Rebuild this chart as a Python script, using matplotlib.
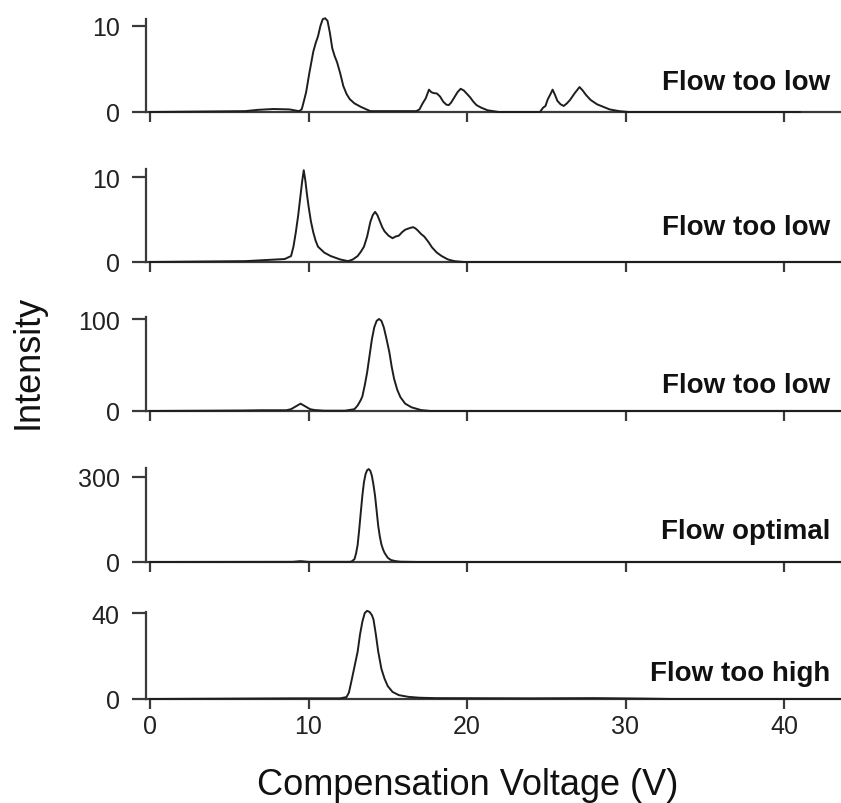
import matplotlib
matplotlib.use("Agg")
import matplotlib.pyplot as plt

plt.rcParams['font.family'] = ['Liberation Sans', 'DejaVu Sans']

# ---- data ----
labels = ["Flow too low", "Flow too low", "Flow too low", "Flow optimal", "Flow too high"]
yticks = [[0, 10], [0, 10], [0, 100], [0, 300], [0, 40]]
xticks = [0, 10, 20, 30, 40]

cv1 = [0, 6.0, 6.8, 7.8, 8.8, 9.4,
       9.57, 9.7, 9.85, 10.05, 10.3, 10.45, 10.6, 10.75, 10.9, 11.05, 11.2, 11.35, 11.5, 11.65,
       11.8, 12.0, 12.2, 12.4, 12.6, 12.9, 13.3, 13.9,
       16.8, 17.0, 17.2, 17.4, 17.6, 17.75, 17.9, 18.1, 18.3, 18.5, 18.7, 18.85, 19.0, 19.2,
       19.4, 19.6, 19.8, 20.0, 20.2, 20.4, 20.6, 20.9, 21.3, 22.0,
       24.6, 24.8, 24.95, 25.1, 25.3, 25.4, 25.55, 25.7, 25.9, 26.1, 26.3, 26.5, 26.8, 27.1,
       27.3, 27.5, 27.8, 28.2, 28.6, 29.0, 29.6, 30.2, 41.0]
int1 = [0, 0.1, 0.25, 0.35, 0.3, 0.1,
        0.3, 1.2, 2.3, 4.5, 7.0, 8.0, 8.8, 10.0, 10.8, 10.9, 10.6, 9.2, 7.4, 6.5,
        5.8, 4.5, 3.0, 2.1, 1.5, 1.0, 0.6, 0.1,
        0.1, 0.3, 1.0, 1.6, 2.6, 2.3, 2.2, 2.15, 1.8, 1.2, 0.85, 0.8, 1.1, 1.7,
        2.3, 2.7, 2.5, 2.1, 1.7, 1.2, 0.8, 0.5, 0.2, 0,
        0, 0.5, 0.7, 1.5, 2.2, 2.6, 2.0, 1.3, 0.9, 0.7, 1.0, 1.4, 2.2, 2.9,
        2.5, 2.0, 1.4, 0.9, 0.6, 0.3, 0.1, 0, 0]

cv2 = [0, 6.0, 7.0, 8.5, 8.9, 9.05, 9.2, 9.35, 9.45, 9.6, 9.7, 9.8, 9.9, 10.0, 10.15, 10.3,
       10.45, 10.6, 11.0, 11.4, 12.0, 12.5, 12.8, 13.1, 13.3, 13.5, 13.7, 13.9, 14.05, 14.2,
       14.35, 14.5, 14.65, 14.8, 15.05, 15.3, 15.5, 15.7, 15.9, 16.1, 16.4, 16.6, 16.75, 16.9,
       17.1, 17.3, 17.55, 17.8, 18.1, 18.4, 18.8, 19.2, 19.8, 43.6]
int2 = [0, 0.1, 0.2, 0.35, 0.7, 1.8, 3.5, 5.5, 7.1, 9.5, 10.8, 9.6, 8.0, 6.6, 4.8, 3.5,
        2.5, 1.8, 1.1, 0.7, 0.3, 0.1, 0.3, 0.7, 1.2, 1.8, 3.0, 4.7, 5.5, 5.9,
        5.5, 4.8, 4.1, 3.6, 3.1, 2.8, 3.0, 3.1, 3.5, 3.8, 4.0, 4.1, 3.95, 3.7,
        3.3, 3.0, 2.4, 1.7, 1.1, 0.7, 0.3, 0.1, 0, 0]

cv3 = [0, 5.8, 7.0, 8.6, 8.9, 9.2, 9.5, 9.7, 9.9, 10.1, 10.4, 11.0, 12.3,
       12.9, 13.1, 13.3, 13.4, 13.55, 13.7, 13.85, 14.0, 14.15, 14.3, 14.45, 14.6, 14.75, 14.9,
       15.1, 15.25, 15.4, 15.6, 15.8, 16.1, 16.5, 17.1, 17.7, 43.6]
int3 = [0, 0.5, 0.8, 0.8, 2, 5, 8, 6, 4, 2, 1, 0.3, 0.3,
        2, 6, 12, 16, 28, 42, 60, 78, 91, 98, 100, 98, 91, 80,
        64, 48, 35, 23, 15, 8, 4, 1, 0, 0]

cv4 = [0, 9.0, 9.5, 10.0, 12.5, 12.7, 12.9, 13.0, 13.1, 13.2, 13.3, 13.4, 13.5, 13.6, 13.7,
       13.8, 13.9, 14.0, 14.1, 14.2, 14.3, 14.4, 14.5, 14.6, 14.7, 14.8, 15.0, 15.2, 15.5,
       15.8, 17.0, 43.6]
int4 = [0, 0.5, 3, 0.5, 0.5, 1, 10, 30, 60, 115, 176, 235, 282, 310, 324,
        328, 322, 304, 272, 233, 180, 127, 90, 62, 45, 32, 15, 7, 3,
        1, 0, 0]

cv5 = [0, 9.0, 12.0, 12.4, 12.55, 12.7, 12.9, 13.1, 13.25, 13.4, 13.55, 13.7, 13.85, 14.0,
       14.1, 14.25, 14.4, 14.6, 14.8, 15.0, 15.3, 15.7, 16.3, 17.0, 18.0, 24.0, 28.0, 31.0,
       33.0, 43.6]
int5 = [0, 0.3, 0.3, 0.9, 3, 8, 15, 22, 30, 36, 40, 41, 40.5, 39,
        37, 30, 22, 14, 9.4, 6, 3.3, 1.8, 1, 0.6, 0.4, 0.3, 0.4, 0.2,
        0, 0]

series = [(cv1, int1), (cv2, int2), (cv3, int3), (cv4, int4), (cv5, int5)]

# ---- layout (pixels) ----
W, H = 841, 804
panels_px = [(20, 113, 27), (170, 263, 178), (318, 412, 320), (469, 563, 478), (613, 700, 614)]
label_base = [90, 235, 393, 539, 681]
x_left_px, x0_px, xunit = 146, 150, 15.85

fig = plt.figure(figsize=(W / 100, H / 100), dpi=100)
xmin = (x_left_px - x0_px) / xunit
xmax = (W - x0_px) / xunit

line_col = '#1e1e1e'
ax_col = '#3a3a3a'

for i, ((top, base, ttop), (xs, ys)) in enumerate(zip(panels_px, series)):
    ax = fig.add_axes([x_left_px / W, 1 - base / H, (W - x_left_px) / W, (base - top) / H])
    ax.plot(xs, ys, color=line_col, lw=1.4, clip_on=False, zorder=3)
    tv = yticks[i][1]
    ymax = tv * (base - top) / (base - ttop)
    ax.set_ylim(0, ymax)
    ax.set_xlim(xmin, xmax)
    ax.set_yticks(yticks[i])
    ax.set_xticks(xticks)
    for s in ['top', 'right']:
        ax.spines[s].set_visible(False)
    for s in ['left', 'bottom']:
        ax.spines[s].set_color(ax_col)
        ax.spines[s].set_linewidth(1.6)
    ax.tick_params(axis='y', direction='out', length=10, width=1.6, color=ax_col,
                   labelsize=18, labelcolor='#222222', pad=9)
    ax.tick_params(axis='x', direction='out', length=7, width=1.6, color=ax_col,
                   labelsize=18, labelcolor='#222222', pad=4)
    if i < 4:
        ax.set_xticklabels([])
    ax.patch.set_alpha(0)
    fig.text(830 / W, 1 - label_base[i] / H, labels[i], ha='right', va='baseline',
             fontsize=20, fontweight='bold', color='#111111')

fig.text(468 / W, 1 - 795 / H, "Compensation Voltage (V)", ha='center', va='baseline',
         fontsize=26, color='#111111')
fig.text(28 / W, 1 - 362 / H, "Intensity", ha='center', va='center', rotation=90,
         fontsize=26, color='#111111')

fig.savefig("out.png", dpi=100)
